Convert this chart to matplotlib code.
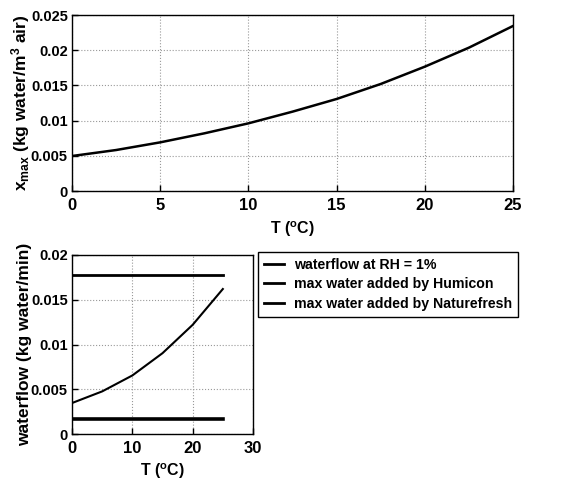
import matplotlib
matplotlib.use("Agg")
import matplotlib.pyplot as plt

plt.rcParams['font.family'] = ['Liberation Sans', 'DejaVu Sans']
plt.rcParams['font.weight'] = 'bold'
plt.rcParams['font.size'] = 11
plt.rcParams['mathtext.fontset'] = 'custom'
plt.rcParams['mathtext.rm'] = 'Liberation Sans:bold'
plt.rcParams['mathtext.bf'] = 'Liberation Sans:bold'
plt.rcParams['mathtext.it'] = 'Liberation Sans:bold'
plt.rcParams['mathtext.default'] = 'bf'

# top panel: max water content of air vs temperature
temp_top = [0, 2.5, 5, 7.5, 10, 12.5, 15, 17.5, 20, 22.5, 25]
xmax = [0.00497, 0.00582, 0.00691, 0.00819, 0.00961, 0.01127,
        0.01307, 0.0152, 0.01766, 0.02036, 0.02344]

# bottom panel: waterflow vs temperature
temp_bot = [0, 5, 10, 15, 20, 25]
waterflow = [0.00346, 0.00476, 0.00654, 0.00903, 0.0122, 0.0162]
humicon = [0.0178, 0.0178]
naturefresh = [0.0017, 0.0017]
temp_const = [0, 25]

fig = plt.figure(figsize=(5.79, 4.84), dpi=100)
W, H = 579, 484

ax1 = fig.add_axes([72 / W, 1 - 191 / H, (513 - 72) / W, (191 - 15) / H])
ax1.plot(temp_top, xmax, color='black', lw=1.8)
ax1.set_xlim(0, 25)
ax1.set_ylim(0, 0.025)
ax1.set_xticks([0, 5, 10, 15, 20, 25])
ax1.set_yticks([0, 0.005, 0.01, 0.015, 0.02, 0.025])
ax1.set_yticklabels(['0', '0.005', '0.01', '0.015', '0.02', '0.025'])
ax1.set_xlabel(r'T ($^{o}$C)', fontweight='bold', fontsize=11.5, labelpad=5)
ax1.set_ylabel(r'x$_{max}$ (kg water/m$^{3}$ air)', fontweight='bold',
               fontsize=12.5, labelpad=-1)

ax2 = fig.add_axes([72 / W, 1 - 434 / H, (253 - 72) / W, (434 - 255) / H])
ax2.plot(temp_bot, waterflow, color='black', lw=1.5, label='waterflow at RH = 1%')
ax2.plot(temp_const, humicon, color='black', lw=2, label='max water added by Humicon')
ax2.plot(temp_const, naturefresh, color='black', lw=2.6, label='max water added by Naturefresh')
ax2.set_xlim(0, 30)
ax2.set_ylim(0, 0.02)
ax2.set_xticks([0, 10, 20, 30])
ax2.set_yticks([0, 0.005, 0.01, 0.015, 0.02])
ax2.set_yticklabels(['0', '0.005', '0.01', '0.015', '0.02'])
ax2.set_xlabel(r'T ($^{o}$C)', fontweight='bold', fontsize=11.5, labelpad=4)
ax2.set_ylabel('waterflow (kg water/min)', fontweight='bold', fontsize=12.5, labelpad=-1)

for ax in (ax1, ax2):
    ax.grid(True, linestyle=':', color='#999999', lw=0.8)
    ax.tick_params(direction='in', length=4, width=1)
    ax.tick_params(axis='x', labelsize=12, pad=5)
    ax.tick_params(axis='y', labelsize=10.5, pad=3)
    for s in ax.spines.values():
        s.set_linewidth(1)

leg = ax2.legend(loc='upper left', bbox_to_anchor=(258 / W, 1 - 252 / H),
                 bbox_transform=fig.transFigure, fancybox=False, framealpha=1,
                 edgecolor='black', borderaxespad=0, handlelength=1.4,
                 handletextpad=0.75, labelspacing=0.4, borderpad=0.4,
                 prop={'weight': 'bold', 'size': 10.2})
leg.get_frame().set_linewidth(1)
for line in leg.get_lines():
    line.set_linewidth(2)

fig.savefig('out.png', dpi=100)
